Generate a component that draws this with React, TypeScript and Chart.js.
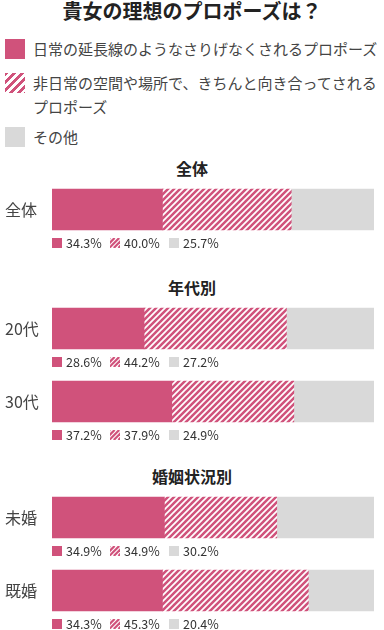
import React, { useEffect, useRef } from 'react';
import { Chart, registerables } from 'chart.js';
Chart.register(...registerables);

const TITLE = '貴女の理想のプロポーズは？';
const SERIES_NAMES = [
  '日常の延長線のようなさりげなくされるプロポーズ',
  '非日常の空間や場所で、きちんと向き合ってされるプロポーズ',
  'その他',
];
const SECTION_TITLES = ['全体', '年代別', '婚姻状況別'];
const CATS_ALL = ['全体'];
const CATS_AGE = ['20代', '30代'];
const CATS_MARITAL = ['未婚', '既婚'];
const CASUAL_ALL = [34.3];
const SPECIAL_ALL = [40.0];
const OTHER_ALL = [25.7];
const CASUAL_AGE = [28.6, 37.2];
const SPECIAL_AGE = [44.2, 37.9];
const OTHER_AGE = [27.2, 24.9];
const CASUAL_MARITAL = [34.9, 34.3];
const SPECIAL_MARITAL = [34.9, 45.3];
const OTHER_MARITAL = [30.2, 20.4];

const PINK = '#d0527b';
const GRAY = '#d9d9d9';
const TEXT = '#333';
const FONT = '"Noto Sans CJK JP", "Noto Sans", sans-serif';
const ROW = 73;
const PAD = 14;

const STRIPE_CSS = (p: number) =>
  `repeating-linear-gradient(135deg, ${PINK} 0px, ${PINK} ${p / 2}px, #fff ${p / 2}px, #fff ${p}px)`;

function makePattern(): CanvasPattern | string {
  const c = document.createElement('canvas');
  const s = 6;
  c.width = s;
  c.height = s;
  const ctx = c.getContext('2d');
  if (!ctx) return PINK;
  ctx.fillStyle = '#fff';
  ctx.fillRect(0, 0, s, s);
  ctx.strokeStyle = PINK;
  ctx.lineWidth = 2.5;
  ctx.lineCap = 'square';
  for (const o of [-s, 0, s]) {
    ctx.beginPath();
    ctx.moveTo(o, s);
    ctx.lineTo(o + s, 0);
    ctx.stroke();
  }
  return ctx.createPattern(c, 'repeat') || PINK;
}

function drawStripeIcon(ctx: CanvasRenderingContext2D, x: number, y: number, size: number) {
  ctx.save();
  ctx.beginPath();
  ctx.rect(x, y, size, size);
  ctx.clip();
  ctx.fillStyle = '#fff';
  ctx.fillRect(x, y, size, size);
  ctx.strokeStyle = PINK;
  ctx.lineWidth = 2.2;
  const p = 4.6;
  for (let o = -size; o < size * 2; o += p) {
    ctx.beginPath();
    ctx.moveTo(x + o, y + size);
    ctx.lineTo(x + o + size, y);
    ctx.stroke();
  }
  ctx.restore();
}

const valueLabels = {
  id: 'valueLabels',
  afterDatasetsDraw(chart: any) {
    const ctx: CanvasRenderingContext2D = chart.ctx;
    const meta = chart.getDatasetMeta(0);
    const left = chart.chartArea.left;
    ctx.save();
    ctx.font = `12.5px ${FONT}`;
    ctx.textBaseline = 'middle';
    meta.data.forEach((el: any, i: number) => {
      const cy = el.y + el.height / 2 + 13;
      const offs = [0, 58, 117];
      chart.data.datasets.forEach((ds: any, d: number) => {
        const x = left + offs[d];
        if (d === 0) {
          ctx.fillStyle = PINK;
          ctx.fillRect(x, cy - 5, 10, 10);
        } else if (d === 1) {
          drawStripeIcon(ctx, x, cy - 5, 10);
        } else {
          ctx.fillStyle = GRAY;
          ctx.fillRect(x, cy - 5, 10, 10);
        }
        ctx.fillStyle = TEXT;
        ctx.textAlign = 'left';
        ctx.fillText(ds.data[i].toFixed(1) + '%', x + 14, cy + 0.5);
      });
    });
    ctx.restore();
  },
};

function Section({ rowTop, labels, a, b, c }: { rowTop: number; labels: string[]; a: number[]; b: number[]; c: number[] }) {
  const ref = useRef<HTMLCanvasElement>(null);
  const height = labels.length * ROW + PAD * 2;
  useEffect(() => {
    if (!ref.current) return;
    const chart = new Chart(ref.current, {
      type: 'bar',
      data: {
        labels,
        datasets: [
          { label: SERIES_NAMES[0], data: a, backgroundColor: PINK },
          { label: SERIES_NAMES[1], data: b, backgroundColor: makePattern() as any },
          { label: SERIES_NAMES[2], data: c, backgroundColor: GRAY },
        ],
      },
      options: {
        indexAxis: 'y',
        responsive: false,
        animation: false,
        layout: { padding: { left: 5, right: 10, top: PAD, bottom: PAD } },
        datasets: { bar: { barThickness: 41, borderWidth: 0 } } as any,
        plugins: { legend: { display: false }, tooltip: { enabled: false }, title: { display: false } },
        scales: {
          x: { stacked: true, min: 0, max: 100, display: false },
          y: {
            stacked: true,
            grid: { display: false },
            border: { display: false },
            ticks: { color: '#444', font: { size: 16, family: FONT }, crossAlign: 'far', padding: 0 },
            afterFit: (s: any) => {
              s.width = 47;
            },
          },
        },
      },
      plugins: [valueLabels],
    });
    return () => chart.destroy();
  }, []);
  const top = rowTop - PAD;
  return (
    <canvas
      ref={ref}
      width={384}
      height={height}
      style={{ position: 'absolute', left: 0, top, width: 384, height, display: 'block' }}
    />
  );
}

const sectionTitleStyle = (top: number): React.CSSProperties => ({
  position: 'absolute',
  left: 0,
  width: 384,
  top,
  textAlign: 'center',
  fontWeight: 700,
  fontSize: 16,
  lineHeight: '20px',
  color: '#222',
  fontFamily: FONT,
});

const legendText: React.CSSProperties = {
  position: 'absolute',
  left: 33,
  fontSize: 15,
  lineHeight: '24px',
  color: '#444',
  fontFamily: FONT,
  whiteSpace: 'nowrap',
};

const name2 = SERIES_NAMES[1];
const cut2 = name2.lastIndexOf('プロポーズ');

export default function App() {
  return (
    <div
      style={{
        position: 'absolute',
        left: 0,
        top: 0,
        width: 384,
        height: 630,
        overflow: 'hidden',
        background: '#fff',
        fontFamily: FONT,
      }}
    >
      <div
        style={{
          position: 'absolute',
          left: 0,
          top: 0,
          width: 384,
          textAlign: 'center',
          fontWeight: 700,
          fontSize: 20,
          lineHeight: '22px',
          color: '#222',
        }}
      >
        {TITLE}
      </div>
      <div style={{ position: 'absolute', left: 5, top: 39, width: 20, height: 20, background: PINK }} />
      <div style={{ ...legendText, top: 37 }}>{SERIES_NAMES[0]}</div>
      <div style={{ position: 'absolute', left: 5, top: 73, width: 20, height: 20, background: STRIPE_CSS(5.5) }} />
      <div style={{ ...legendText, top: 71 }}>
        {name2.slice(0, cut2)}
        <br />
        {name2.slice(cut2)}
      </div>
      <div style={{ position: 'absolute', left: 5, top: 127, width: 20, height: 20, background: GRAY }} />
      <div style={{ ...legendText, top: 125 }}>{SERIES_NAMES[2]}</div>

      <div style={sectionTitleStyle(158)}>{SECTION_TITLES[0]}</div>
      <Section rowTop={173} labels={CATS_ALL} a={CASUAL_ALL} b={SPECIAL_ALL} c={OTHER_ALL} />
      <div style={sectionTitleStyle(277)}>{SECTION_TITLES[1]}</div>
      <Section rowTop={292} labels={CATS_AGE} a={CASUAL_AGE} b={SPECIAL_AGE} c={OTHER_AGE} />
      <div style={sectionTitleStyle(466)}>{SECTION_TITLES[2]}</div>
      <Section rowTop={481} labels={CATS_MARITAL} a={CASUAL_MARITAL} b={SPECIAL_MARITAL} c={OTHER_MARITAL} />
    </div>
  );
}
